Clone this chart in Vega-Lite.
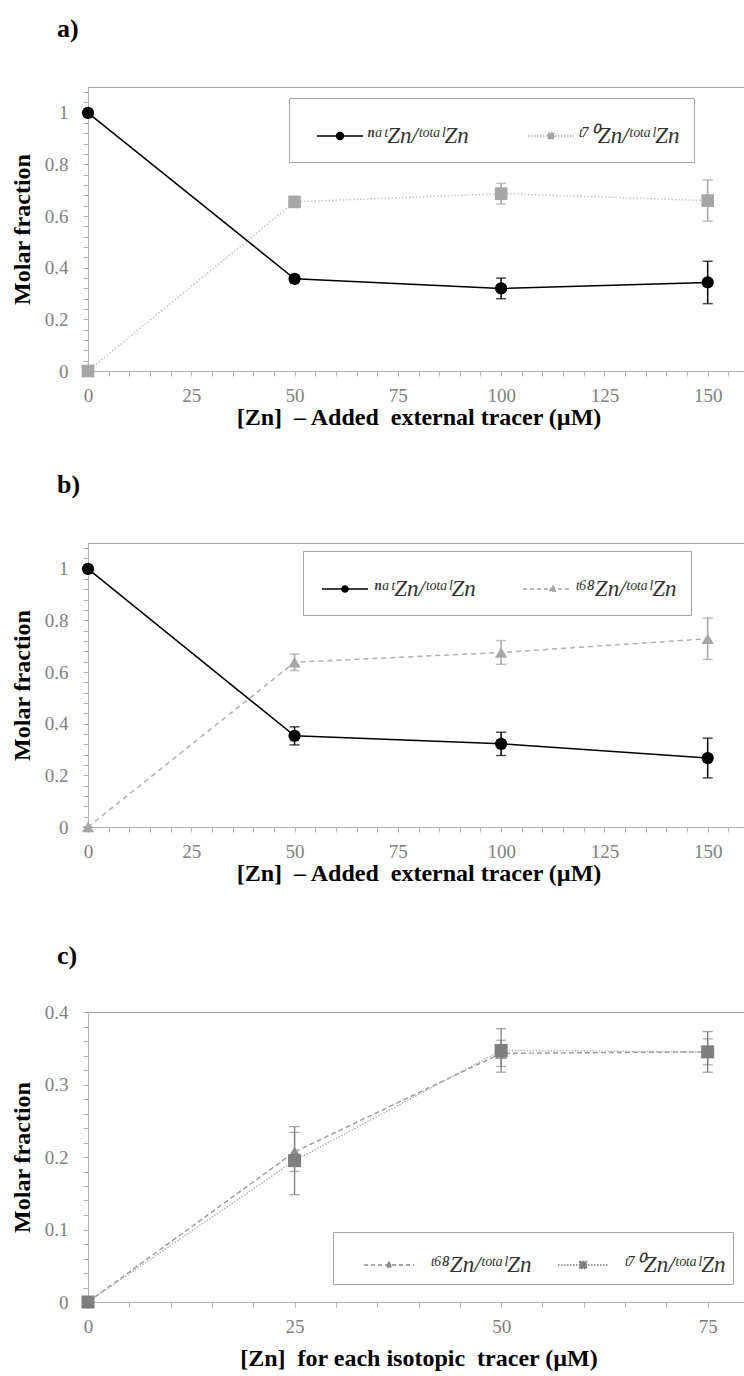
{
  "$schema": "https://vega.github.io/schema/vega-lite/v6.json",
  "background": "white",
  "padding": {"left": 9, "top": 15, "right": 0, "bottom": 0},
  "spacing": 56,
  "resolve": {"scale": {"x": "independent", "y": "independent", "color": "independent"}},
  "vconcat": [
    {
      "spacing": 41,
      "resolve": {"scale": {"x": "independent", "y": "independent", "color": "independent"}},
      "vconcat": [
        {
          "width": 661, "height": 284,
          "title": {"text": "a)", "anchor": "start", "frame": "group", "dx": -31, "offset": 41},
          "data": {"values": [
            {"x": 0, "s": "nat", "y": 1.0, "e": 0.0},
            {"x": 50, "s": "nat", "y": 0.357, "e": 0.012},
            {"x": 100, "s": "nat", "y": 0.32, "e": 0.04},
            {"x": 150, "s": "nat", "y": 0.343, "e": 0.082},
            {"x": 0, "s": "t70", "y": 0.0, "e": 0.0},
            {"x": 50, "s": "t70", "y": 0.655, "e": 0.01},
            {"x": 100, "s": "t70", "y": 0.687, "e": 0.04},
            {"x": 150, "s": "t70", "y": 0.66, "e": 0.08}
          ]},
          "encoding": {
            "x": {"field": "x", "type": "quantitative", "scale": {"domain": [0, 160]},
              "axis": {"title": "[Zn]\u00a0 – Added\u00a0 external tracer (µM)", "titlePadding": 0,
                "values": [0,5,10,15,20,25,30,35,40,45,50,55,60,65,70,75,80,85,90,95,100,105,110,115,120,125,130,135,140,145,150,155,160],
                "labelExpr": "datum.value % 25 == 0 ? datum.label : ''"}},
            "y": {"field": "y", "type": "quantitative", "scale": {"domain": [0, 1.1]},
              "axis": {"title": "Molar fraction",
                "values": [0,0.04,0.08,0.12,0.16,0.2,0.24,0.28,0.32,0.36,0.4,0.44,0.48,0.52,0.56,0.6,0.64,0.68,0.72,0.76,0.8,0.84,0.88,0.92,0.96,1,1.04,1.08],
                "labelExpr": "abs(datum.value*5-round(datum.value*5))<0.001 ? format(datum.value,'~g') : ''"}},
            "color": {"field": "s", "type": "nominal",
              "scale": {"domain": ["nat", "t70"], "range": ["#000000", "#a6a6a6"]},
              "legend": {
                "orient": "none", "legendX": 201, "legendY": 11, "direction": "horizontal",
                "title": "\u00a0", "titleOrient": "left", "titleFontSize": 1, "titlePadding": 13,
                "strokeColor": "#a6a6a6", "fillColor": "white", "padding": 14,
                "columnPadding": 56, "labelOffset": 3,
                "labelFont": "Liberation Serif", "labelFontSize": 23, "labelFontStyle": "italic", "labelColor": "#333333",
                "symbolSize": 2116,
                "labelExpr": "datum.value === 'nat' ? 'ⁿᵃᵗZn/ᵗᵒᵗᵃˡZn' : 'ᵗ⁷⁰Zn/ᵗᵒᵗᵃˡZn'",
                "encode": {"symbols": {"update": {
                  "shape": {"signal": "datum.value === 'nat' ? 'M-1,0H1M-0.15,0A0.15,0.15,0,1,1,0.15,0A0.15,0.15,0,1,1,-0.15,0Z' : 'M-1,0H1M-0.13,-0.13H0.13V0.13H-0.13Z'"},
                  "fill": {"signal": "datum.value === 'nat' ? '#000000' : '#a6a6a6'"},
                  "stroke": {"signal": "datum.value === 'nat' ? '#000000' : '#b8b8b8'"},
                  "strokeDash": {"signal": "datum.value === 'nat' ? [] : [1.5, 1.5]"},
                  "strokeWidth": {"value": 1.5},
                  "size": {"value": 2116},
                  "opacity": {"value": 1}
                }}}
              }}
          },
          "layer": [
            {"transform": [{"filter": "datum.s === 'nat'"}],
              "mark": {"type": "line", "strokeWidth": 1.5}, "encoding": {"color": {"value": "#000000"}}},
            {"transform": [{"filter": "datum.s === 't70'"}],
              "mark": {"type": "line", "strokeWidth": 1.5, "strokeDash": [1.5, 2]}, "encoding": {"color": {"value": "#c4c4c4"}}},
            {"mark": {"type": "errorbar", "ticks": {"size": 10}, "thickness": 1.5},
              "encoding": {"yError": {"field": "e"}}},
            {"transform": [{"filter": "datum.s === 'nat'"}],
              "mark": {"type": "point", "shape": "circle", "filled": true, "size": 150, "opacity": 1}},
            {"transform": [{"filter": "datum.s === 't70'"}],
              "mark": {"type": "point", "shape": "square", "filled": true, "size": 160, "opacity": 1}}
          ]
        },
        {
          "width": 661, "height": 284,
          "title": {"text": "b)", "anchor": "start", "frame": "group", "dx": -31, "offset": 41},
          "data": {"values": [
            {"x": 0, "s": "nat", "y": 1.0, "e": 0.0},
            {"x": 50, "s": "nat", "y": 0.353, "e": 0.035},
            {"x": 100, "s": "nat", "y": 0.322, "e": 0.045},
            {"x": 150, "s": "nat", "y": 0.267, "e": 0.077},
            {"x": 0, "s": "t68", "y": 0.0, "e": 0.0},
            {"x": 50, "s": "t68", "y": 0.638, "e": 0.032},
            {"x": 100, "s": "t68", "y": 0.676, "e": 0.046},
            {"x": 150, "s": "t68", "y": 0.729, "e": 0.08}
          ]},
          "encoding": {
            "x": {"field": "x", "type": "quantitative", "scale": {"domain": [0, 160]},
              "axis": {"title": "[Zn]\u00a0 – Added\u00a0 external tracer (µM)", "titlePadding": 0,
                "values": [0,5,10,15,20,25,30,35,40,45,50,55,60,65,70,75,80,85,90,95,100,105,110,115,120,125,130,135,140,145,150,155,160],
                "labelExpr": "datum.value % 25 == 0 ? datum.label : ''"}},
            "y": {"field": "y", "type": "quantitative", "scale": {"domain": [0, 1.1]},
              "axis": {"title": "Molar fraction",
                "values": [0,0.04,0.08,0.12,0.16,0.2,0.24,0.28,0.32,0.36,0.4,0.44,0.48,0.52,0.56,0.6,0.64,0.68,0.72,0.76,0.8,0.84,0.88,0.92,0.96,1,1.04,1.08],
                "labelExpr": "abs(datum.value*5-round(datum.value*5))<0.001 ? format(datum.value,'~g') : ''"}},
            "color": {"field": "s", "type": "nominal",
              "scale": {"domain": ["nat", "t68"], "range": ["#000000", "#a6a6a6"]},
              "legend": {
                "orient": "none", "legendX": 215, "legendY": 8, "direction": "horizontal",
                "title": "\u00a0", "titleOrient": "left", "titleFontSize": 1, "titlePadding": 4,
                "strokeColor": "#a6a6a6", "fillColor": "white", "padding": 14,
                "columnPadding": 44, "labelOffset": 5,
                "labelFont": "Liberation Serif", "labelFontSize": 23, "labelFontStyle": "italic", "labelColor": "#333333",
                "symbolSize": 2116,
                "labelExpr": "datum.value === 'nat' ? 'ⁿᵃᵗZn/ᵗᵒᵗᵃˡZn' : 'ᵗ⁶⁸Zn/ᵗᵒᵗᵃˡZn\u00a0'",
                "encode": {"symbols": {"update": {
                  "shape": {"signal": "datum.value === 'nat' ? 'M-1,0H1M-0.13,0A0.13,0.13,0,1,1,0.13,0A0.13,0.13,0,1,1,-0.13,0Z' : 'M-1,0H1M0.3,-0.16L0.45,0.1H0.15Z'"},
                  "fill": {"signal": "datum.value === 'nat' ? '#000000' : '#a6a6a6'"},
                  "stroke": {"signal": "datum.value === 'nat' ? '#000000' : '#b0b0b0'"},
                  "strokeDash": {"signal": "datum.value === 'nat' ? [] : [4, 3]"},
                  "strokeWidth": {"value": 1.5},
                  "size": {"value": 2116},
                  "opacity": {"value": 1}
                }}}
              }}
          },
          "layer": [
            {"transform": [{"filter": "datum.s === 'nat'"}],
              "mark": {"type": "line", "strokeWidth": 1.5}, "encoding": {"color": {"value": "#000000"}}},
            {"transform": [{"filter": "datum.s === 't68'"}],
              "mark": {"type": "line", "strokeWidth": 1.5, "strokeDash": [5, 4]}, "encoding": {"color": {"value": "#b0b0b0"}}},
            {"mark": {"type": "errorbar", "ticks": {"size": 10}, "thickness": 1.5},
              "encoding": {"yError": {"field": "e"}}},
            {"transform": [{"filter": "datum.s === 'nat'"}],
              "mark": {"type": "point", "shape": "circle", "filled": true, "size": 150, "opacity": 1}},
            {"transform": [{"filter": "datum.s === 't68'"}],
              "mark": {"type": "point", "shape": "triangle-up", "filled": true, "size": 150, "opacity": 1}}
          ]
        }
      ]
    },
    {
      "width": 661, "height": 290,
      "title": {"text": "c)", "anchor": "start", "frame": "group", "dx": -31, "offset": 34},
      "data": {"values": [
        {"x": 0, "s": "t68", "y": 0.0, "e": 0.0},
        {"x": 25, "s": "t68", "y": 0.207, "e": 0.027},
        {"x": 50, "s": "t68", "y": 0.343, "e": 0.018},
        {"x": 75, "s": "t68", "y": 0.345, "e": 0.018},
        {"x": 0, "s": "t70", "y": 0.0, "e": 0.0},
        {"x": 25, "s": "t70", "y": 0.195, "e": 0.047},
        {"x": 50, "s": "t70", "y": 0.347, "e": 0.03},
        {"x": 75, "s": "t70", "y": 0.345, "e": 0.028}
      ]},
      "encoding": {
        "x": {"field": "x", "type": "quantitative", "scale": {"domain": [0, 80]},
          "axis": {"title": "[Zn]\u00a0 for each isotopic\u00a0 tracer (µM)", "titlePadding": 10,
            "values": [0,5,10,15,20,25,30,35,40,45,50,55,60,65,70,75,80],
            "labelExpr": "datum.value % 25 == 0 ? datum.label : ''"}},
        "y": {"field": "y", "type": "quantitative", "scale": {"domain": [0, 0.4]},
          "axis": {"title": "Molar fraction",
            "values": [0,0.02,0.04,0.06,0.08,0.1,0.12,0.14,0.16,0.18,0.2,0.22,0.24,0.26,0.28,0.3,0.32,0.34,0.36,0.38,0.4],
            "labelExpr": "abs(datum.value*10-round(datum.value*10))<0.001 ? format(datum.value,'~g') : ''"}},
        "color": {"field": "s", "type": "nominal",
          "scale": {"domain": ["t68", "t70"], "range": ["#8c8c8c", "#7f7f7f"]},
          "legend": {
            "orient": "none", "legendX": 245, "legendY": 220, "direction": "horizontal",
            "title": "\u00a0", "titleOrient": "left", "titleFontSize": 1, "titlePadding": 23,
            "strokeColor": "#a6a6a6", "fillColor": "white", "padding": 7,
            "columnPadding": 23, "labelOffset": 15,
            "labelFont": "Liberation Serif", "labelFontSize": 23, "labelFontStyle": "italic", "labelColor": "#333333",
            "symbolSize": 2500,
            "labelExpr": "datum.value === 't68' ? 'ᵗ⁶⁸Zn/ᵗᵒᵗᵃˡZn' : 'ᵗ⁷⁰Zn/ᵗᵒᵗᵃˡZn\u00a0\u00a0'",
            "encode": {"symbols": {"update": {
              "shape": {"signal": "datum.value === 't68' ? 'M-1,0H1M0,-0.12L0.12,0.08H-0.12Z' : 'M-1,0H1M-0.14,-0.14H0.14V0.14H-0.14Z'"},
              "fill": {"signal": "datum.value === 't68' ? '#8c8c8c' : '#7f7f7f'"},
              "stroke": {"signal": "datum.value === 't68' ? '#8c8c8c' : '#a6a6a6'"},
              "strokeDash": {"signal": "datum.value === 't68' ? [4, 3] : [1.5, 1.5]"},
              "strokeWidth": {"value": 1.3},
              "size": {"value": 2500},
              "opacity": {"value": 1}
            }}}
          }}
      },
      "layer": [
        {"transform": [{"filter": "datum.s === 't68'"}],
          "mark": {"type": "line", "strokeWidth": 1.4, "strokeDash": [5, 3]}, "encoding": {"color": {"value": "#9a9a9a"}}},
        {"transform": [{"filter": "datum.s === 't70'"}],
          "mark": {"type": "line", "strokeWidth": 1.4, "strokeDash": [1.5, 1.5]}, "encoding": {"color": {"value": "#b0b0b0"}}},
        {"mark": {"type": "errorbar", "ticks": {"size": 10}, "thickness": 1.3},
          "encoding": {"yError": {"field": "e"}}},
        {"transform": [{"filter": "datum.s === 't68'"}],
          "mark": {"type": "point", "shape": "triangle-up", "filled": true, "size": 160, "opacity": 1}},
        {"transform": [{"filter": "datum.s === 't70'"}],
          "mark": {"type": "point", "shape": "square", "filled": true, "size": 170, "opacity": 1}}
      ]
    }
  ],
  "config": {
    "font": "Liberation Serif",
    "view": {"stroke": "#a6a6a6", "strokeWidth": 1},
    "axis": {
      "labelFont": "Liberation Serif", "labelFontSize": 19, "labelColor": "#808080",
      "titleFont": "Liberation Serif", "titleFontSize": 24, "titleFontWeight": "bold", "titleColor": "#000000",
      "domainColor": "#b3b3b3", "tickColor": "#b3b3b3", "tickSize": 5, "grid": false,
      "labelFlush": false, "labelOverlap": false
    },
    "axisX": {"labelPadding": 10},
    "axisY": {"labelPadding": 15, "titlePadding": 10},
    "title": {"font": "Liberation Serif", "fontSize": 26, "fontWeight": "bold", "color": "#000000"}
  }
}
